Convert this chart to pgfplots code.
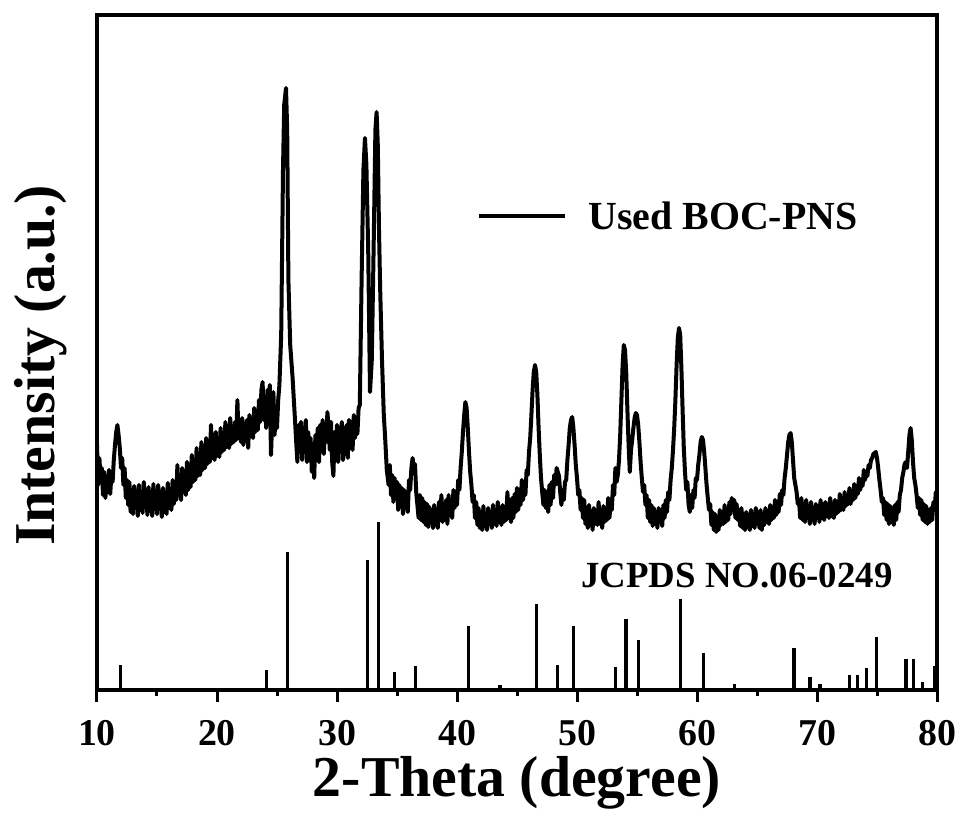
\documentclass[border=0pt]{standalone}
\usepackage{pgfplots}
\pgfplotsset{compat=1.18}
\usepackage{fontspec}
\setmainfont{Liberation Serif}

\begin{document}
\begin{tikzpicture}
\begin{axis}[
  scale only axis, width=840bp, height=675bp,
  xmin=10, xmax=80, ymin=0, ymax=675,
  axis line style={line width=3.2bp},
  xtick={10,20,...,80}, minor x tick num=1, ytick=\empty,
  xtick pos=bottom, tick align=outside,
  major tick length=12bp, minor tick length=6bp,
  tick style={line width=3bp, black},
  /pgf/number format/assume math mode=true,
  xticklabel style={font=\fontsize{38}{38}\selectfont\bfseries, anchor=base, yshift=-43bp},
  xlabel={2-Theta (degree)},
  xlabel style={font=\fontsize{58}{58}\selectfont\bfseries, at={(axis description cs:0.5,-0.1585)}, anchor=base},
  ylabel={Intensity (a.u.)},
  ylabel style={font=\fontsize{58}{58}\selectfont\bfseries, at={(axis description cs:-0.05,0.481)}, anchor=base},
  legend style={at={(0.4524,0.7022)}, anchor=west, draw=none, fill=none, inner sep=0pt,
    font=\fontsize{40}{40}\selectfont\bfseries, nodes={inner sep=0pt},
    /tikz/every odd column/.append style={column sep=22bp}},
  legend image code/.code={\draw[#1, line width=3.2bp] (0bp,0bp) -- (86bp,0bp);},
]
% measured pattern (Used BOC-PNS)
\addplot[black, line width=4bp, line join=round, mark=none] coordinates {
(10.0,245) (10.1,205) (10.2,232) (10.3,210) (10.4,222) (10.5,195) (10.6,218) (10.7,192) (10.8,212) (10.9,198) (11.0,220) (11.1,196) (11.2,215) (11.3,208) (11.4,230) (11.5,245) (11.6,258) (11.7,265) (11.8,255) (11.9,242) (12.0,222) (12.1,232) (12.2,205) (12.3,222) (12.4,192) (12.5,210)
(12.6,185) (12.7,208) (12.8,178) (12.9,200) (13.0,176) (13.1,204) (13.2,182) (13.3,199) (13.4,174) (13.5,205) (13.6,180) (13.7,196) (13.8,177) (13.9,208) (14.0,183) (14.1,200) (14.2,175) (14.3,203) (14.4,179) (14.5,197) (14.6,174) (14.7,206) (14.8,181) (14.9,199) (15.0,176) (15.1,205) (15.2,184) (15.3,198) (15.4,173) (15.5,202) (15.6,178) (15.7,194) (15.8,176) (15.9,207) (16.0,182) (16.1,200) (16.2,180) (16.3,210) (16.4,186) (16.5,205) (16.6,190) (16.7,225) (16.8,195) (16.9,215) (17.0,190) (17.1,222) (17.2,198) (17.3,214) (17.4,195) (17.5,228)
(17.6,200) (17.7,222) (17.8,203) (17.9,235) (18.0,208) (18.1,226) (18.2,210) (18.3,242) (18.4,214) (18.5,232) (18.6,215) (18.7,248) (18.8,220) (18.9,238) (19.0,222) (19.1,252) (19.2,226) (19.3,244) (19.4,228) (19.5,265) (19.6,232) (19.7,248) (19.8,230) (19.9,258) (20.0,234) (20.1,250) (20.2,233) (20.3,262) (20.4,238) (20.5,255) (20.6,240) (20.7,268) (20.8,243) (20.9,258) (21.0,242) (21.1,272) (21.2,246) (21.3,262) (21.4,248) (21.5,268) (21.6,250) (21.7,290) (21.8,252) (21.9,270) (22.0,248) (22.1,272) (22.2,245) (22.3,266) (22.4,250) (22.5,270) (22.6,242) (22.7,275) (22.8,255) (22.9,270) (23.0,252) (23.1,282) (23.2,258) (23.3,278) (23.4,260) (23.5,290) (23.6,268) (23.7,300) (23.8,308) (23.9,270) (24.0,285) (24.1,262) (24.2,300) (24.3,280) (24.4,305) (24.5,235) (24.6,270) (24.7,298) (24.8,255) (24.9,280) (25.0,262) (25.1,290) (25.2,305)
(25.35,355) (25.5,520) (25.6,585) (25.75,602) (25.85,560) (25.95,410) (26.1,345) (26.3,312) (26.5,270)
(26.6,248) (26.7,228) (26.8,265) (26.9,240) (27.0,268) (27.1,230) (27.2,262) (27.3,238) (27.4,270) (27.5,228) (27.6,258) (27.7,236) (27.8,252) (27.9,218) (28.0,245) (28.1,212) (28.2,255) (28.3,232) (28.4,262) (28.5,228) (28.6,265) (28.7,240) (28.8,270) (28.9,236) (29.0,262) (29.1,248) (29.2,278) (29.3,262) (29.4,240) (29.5,268) (29.6,228) (29.7,214) (29.8,258) (29.9,232) (30.0,265) (30.1,228) (30.2,262) (30.3,240) (30.4,268) (30.5,230) (30.6,262) (30.7,236) (30.8,265) (30.9,232) (31.0,270) (31.1,242) (31.2,268) (31.3,240) (31.4,275) (31.5,252) (31.6,272) (31.7,256) (31.8,282)
(31.9,285) (32.05,410) (32.2,520) (32.33,552) (32.45,525) (32.6,440) (32.75,298) (32.9,330) (33.05,440) (33.2,560) (33.3,578) (33.4,545) (33.5,460) (33.6,400) (33.75,330) (33.9,275) (34.0,255) (34.15,220) (34.3,205)
(34.4,225) (34.5,195) (34.6,215) (34.7,188) (34.8,212) (34.9,192) (35.0,208) (35.1,180) (35.2,205) (35.3,184) (35.4,202) (35.5,176) (35.6,200) (35.7,182) (35.8,196) (35.9,178) (36.0,210) (36.1,200) (36.2,222) (36.3,232) (36.4,220) (36.5,226) (36.6,198) (36.7,185) (36.8,172) (36.9,195) (37.0,170) (37.1,192) (37.2,168) (37.3,188) (37.4,165) (37.5,186) (37.6,163) (37.7,183) (37.8,168) (37.9,180) (38.0,162) (38.1,185) (38.2,165) (38.3,178) (38.4,162) (38.5,188) (38.6,170) (38.7,195) (38.8,168) (38.9,186) (39.0,170) (39.1,190) (39.2,166) (39.3,195) (39.4,175) (39.5,190) (39.6,172) (39.7,200) (39.8,182) (39.9,195) (40.0,185) (40.1,210) (40.2,200) (40.3,222) (40.4,238) (40.5,258) (40.6,275) (40.7,288) (40.8,282) (40.9,262) (41.0,238) (41.1,218) (41.2,205) (41.3,188) (41.4,195)
(41.5,172) (41.6,188) (41.7,165) (41.8,182) (41.9,162) (42.0,178) (42.1,160) (42.2,184) (42.3,164) (42.4,176) (42.5,160) (42.6,182) (42.7,166) (42.8,178) (42.9,162) (43.0,185) (43.1,166) (43.2,180) (43.3,164) (43.4,188) (43.5,168) (43.6,182) (43.7,165) (43.8,185) (43.9,168) (44.0,178) (44.1,170) (44.2,198) (44.3,172) (44.4,190) (44.5,168) (44.6,192) (44.7,172) (44.8,196) (44.9,178) (45.0,202) (45.1,180) (45.2,198) (45.3,185) (45.4,210) (45.5,190) (45.6,205) (45.7,195) (45.8,220) (45.9,215) (46.0,238) (46.1,252) (46.2,275) (46.3,300) (46.4,318) (46.5,325) (46.6,318) (46.7,295) (46.8,262) (46.9,235) (47.0,212) (47.1,198) (47.2,185)
(47.3,200) (47.4,182) (47.5,198) (47.6,178) (47.7,205) (47.8,185) (47.9,208) (48.0,192) (48.1,215) (48.2,205) (48.3,222) (48.4,218) (48.5,214) (48.6,198) (48.7,185) (48.8,200) (48.9,190) (49.0,208) (49.1,210) (49.2,230) (49.3,245) (49.4,262) (49.5,270) (49.6,273) (49.7,262) (49.8,245) (49.9,225) (50.0,212) (50.1,195) (50.2,200) (50.3,180) (50.4,192)
(50.5,172) (50.6,190) (50.7,166) (50.8,180) (50.9,162) (51.0,185) (51.1,165) (51.2,178) (51.3,160) (51.4,182) (51.5,166) (51.6,176) (51.7,165) (51.8,188) (51.9,166) (52.0,180) (52.1,162) (52.2,184) (52.3,168) (52.4,178) (52.5,170) (52.6,192) (52.7,172) (52.8,185) (52.9,180) (53.0,205) (53.1,195) (53.2,222) (53.3,208) (53.4,215) (53.5,230) (53.6,255) (53.7,290) (53.8,325) (53.9,345) (54.0,340) (54.1,318) (54.2,280) (54.3,245) (54.4,218) (54.5,240) (54.6,250) (54.7,262) (54.8,272) (54.9,277) (55.0,275) (55.1,265) (55.2,248) (55.3,228) (55.4,212) (55.5,198) (55.6,205) (55.7,185)
(55.8,195) (55.9,172) (56.0,190) (56.1,168) (56.2,185) (56.3,164) (56.4,182) (56.5,166) (56.6,178) (56.7,162) (56.8,182) (56.9,168) (57.0,180) (57.1,164) (57.2,185) (57.3,172) (57.4,190) (57.5,178) (57.6,198) (57.7,190) (57.8,210) (57.9,222) (58.0,240) (58.1,262) (58.2,290) (58.3,325) (58.4,352) (58.5,362) (58.6,355) (58.7,322) (58.8,280) (58.9,242) (59.0,218) (59.1,200) (59.2,208) (59.3,185) (59.4,178) (59.5,195) (59.6,182) (59.7,200) (59.8,192) (59.9,212) (60.0,210) (60.1,225) (60.2,235) (60.3,248) (60.4,253) (60.5,250) (60.6,238) (60.7,222) (60.8,205) (60.9,192) (61.0,180) (61.1,186)
(61.2,165) (61.3,178) (61.4,160) (61.5,176) (61.6,158) (61.7,172) (61.8,160) (61.9,180) (62.0,165) (62.1,178) (62.2,166) (62.3,185) (62.4,168) (62.5,180) (62.6,170) (62.7,188) (62.8,176) (62.9,192) (63.0,180) (63.1,190) (63.2,172) (63.3,186) (63.4,170) (63.5,180) (63.6,164) (63.7,182) (63.8,162) (63.9,176) (64.0,160) (64.1,178) (64.2,163) (64.3,175) (64.4,160) (64.5,180) (64.6,164) (64.7,176) (64.8,162) (64.9,182) (65.0,166) (65.1,178) (65.2,162) (65.3,180) (65.4,160) (65.5,176) (65.6,165) (65.7,182) (65.8,168) (65.9,178) (66.0,166) (66.1,185) (66.2,170) (66.3,182) (66.4,172) (66.5,190) (66.6,175) (66.7,185) (66.8,178) (66.9,196) (67.0,185) (67.1,200) (67.2,195) (67.3,212) (67.4,222) (67.5,235) (67.6,248) (67.7,255) (67.8,257) (67.9,248) (68.0,230) (68.1,212) (68.2,205) (68.3,198) (68.4,186) (68.5,190)
(68.6,172) (68.7,192) (68.8,170) (68.9,186) (69.0,168) (69.1,190) (69.2,172) (69.3,184) (69.4,166) (69.5,188) (69.6,170) (69.7,182) (69.8,166) (69.9,186) (70.0,172) (70.1,184) (70.2,168) (70.3,190) (70.4,172) (70.5,186) (70.6,170) (70.7,188) (70.8,174) (70.9,185) (71.0,172) (71.1,192) (71.2,174) (71.3,186) (71.4,172) (71.5,190) (71.6,176) (71.7,186) (71.8,178) (71.9,196) (72.0,180) (72.1,192) (72.2,180) (72.3,198) (72.4,184) (72.5,194) (72.6,186) (72.7,202) (72.8,186) (72.9,198) (73.0,190) (73.1,206) (73.2,192) (73.3,204) (73.4,196) (73.5,212) (73.6,200) (73.7,210) (73.8,204) (73.9,220) (74.0,210) (74.1,218) (74.2,214) (74.3,225) (74.4,222) (74.5,230) (74.6,232) (74.7,236) (74.8,237) (74.9,238) (75.0,232) (75.1,222) (75.2,210) (75.3,200) (75.4,188) (75.5,192) (75.6,175)
(75.7,188) (75.8,170) (75.9,186) (76.0,166) (76.1,184) (76.2,168) (76.3,182) (76.4,165) (76.5,185) (76.6,170) (76.7,188) (76.8,178) (76.9,195) (77.0,200) (77.1,212) (77.2,218) (77.3,226) (77.4,228) (77.5,222) (77.6,238) (77.7,255) (77.8,262) (77.9,250) (78.0,228) (78.1,212) (78.2,205) (78.3,195) (78.4,182) (78.5,192) (78.6,175) (78.7,190) (78.8,170) (78.9,186) (79.0,168) (79.1,184) (79.2,166) (79.3,180) (79.4,168) (79.5,182) (79.6,170) (79.7,188) (79.8,180) (79.9,198) (80.0,192)
};
\addlegendentry{Used BOC-PNS}
% reference pattern JCPDS 06-0249
\addplot[black, ycomb, line width=3.2bp, mark=none, forget plot] coordinates {
(11.97,25) (24.10,20) (25.86,138) (32.52,130) (33.47,168) (34.78,18) (36.53,24) (40.94,64) (43.58,5) (46.62,86)
(48.36,25) (49.69,64) (53.22,23) (54.08,71) (55.14,50) (58.61,91) (60.53,37) (63.11,6) (68.08,42) (69.42,13)
(70.25,6) (72.69,15) (73.36,15) (74.11,22) (74.97,53) (77.42,31) (78.06,31) (78.78,8) (79.83,24)
};
\node[anchor=base, font=\fontsize{37}{37}\selectfont\bfseries] at (axis cs:63.33,102) {JCPDS NO.06-0249};
\end{axis}
\pgfresetboundingbox
\path (-97bp,-125bp) rectangle (864bp,690bp);
\end{tikzpicture}
\end{document}
